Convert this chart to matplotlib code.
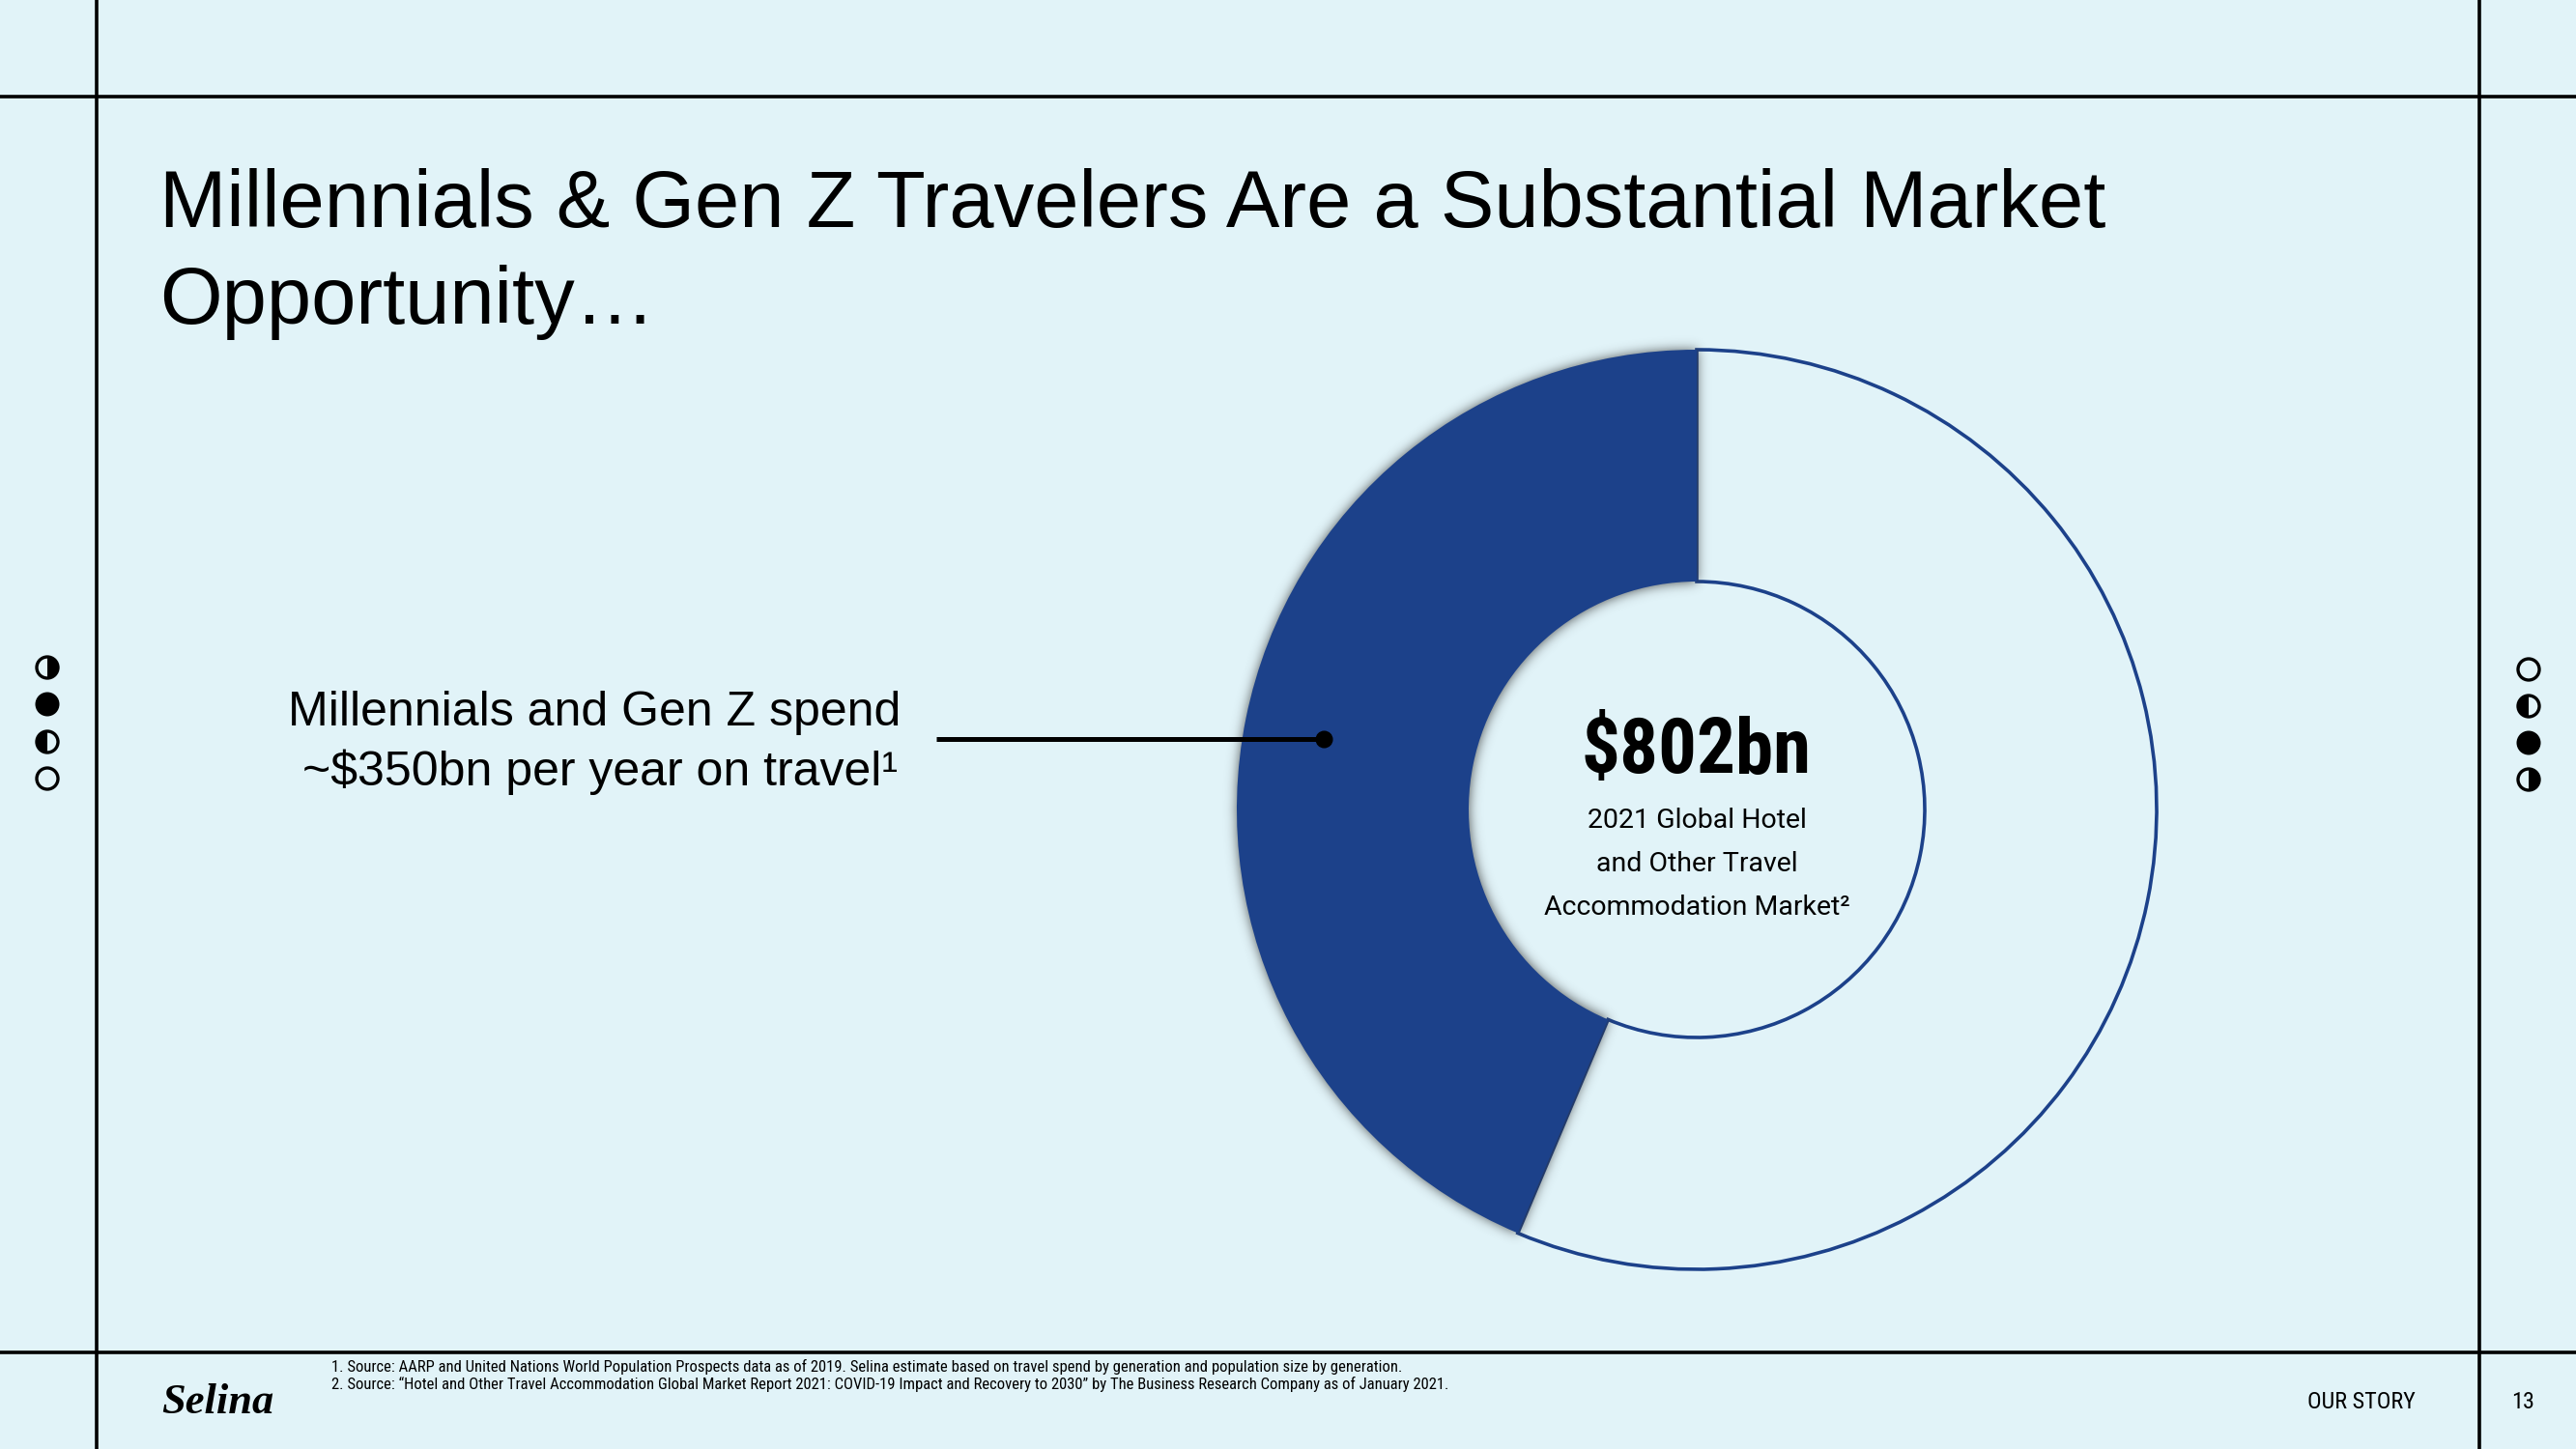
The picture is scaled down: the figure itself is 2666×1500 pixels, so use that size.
import numpy as np
import matplotlib
matplotlib.use("Agg")
import matplotlib.pyplot as plt
from matplotlib.patches import Circle, Wedge

# ---------------- data ----------------
segment_labels = ["Millennials & Gen Z", "Other travelers"]
segment_values = [350, 452]          # $bn ; total = 802
total_label = "$802bn"
total_sub = ["2021 Global Hotel", "and Other Travel", "Accommodation Market\u00b2"]
callout_lines = ["Millennials and Gen Z spend", "~$350bn per year on travel\u00b9"]
title_lines = ["Millennials & Gen Z Travelers Are a Substantial Market", "Opportunity\u2026"]
footnotes = [
    "1. Source: AARP and United Nations World Population Prospects data as of 2019. Selina estimate based on travel spend by generation and population size by generation.",
    "2. Source: \u201cHotel and Other Travel Accommodation Global Market Report 2021: COVID-19 Impact and Recovery to 2030\u201d by The Business Research Company as of January 2021.",
]
section_label = "OUR STORY"
page_number = "13"
brand = "Selina"

# ---------------- style ----------------
W, H, DPI = 2666, 1500, 100
BG = "#E1F3F8"
BLUE = "#1C418A"
SANS = ["Liberation Sans", "DejaVu Sans"]
COND = ["Roboto Condensed", "Liberation Sans Narrow", "Roboto", "DejaVu Sans"]
ROBOTO = ["Roboto", "DejaVu Sans"]

fig = plt.figure(figsize=(W / DPI, H / DPI), dpi=DPI, facecolor=BG)

# ---------------- donut ----------------
cx, cy, R, Rin, S = 1756, 838, 476, 236, 500
ax_d = fig.add_axes([(cx - S) / W, (H - cy - S) / H, 2 * S / W, 2 * S / H])
ax_d.set_facecolor("none")
wedges, _ = ax_d.pie(segment_values, colors=[BLUE, BG], startangle=90, counterclock=True,
                     radius=1.0, wedgeprops=dict(width=1 - Rin / R, linewidth=0))
wedges[1].set_edgecolor(BLUE)
wedges[1].set_linewidth(2.6)
wedges[1].set_zorder(1)
wedges[0].set_zorder(3)
lim = S / R
ax_d.axis("off")

# soft shadow around the highlighted wedge
n = 2 * S
g = np.linspace(-lim, lim, n)
X, Y = np.meshgrid(g, g)
rr = np.hypot(X, Y)
ang = np.degrees(np.arctan2(Y, X)) % 360
t1, t2 = wedges[0].theta1, wedges[0].theta2
mask = ((rr <= 1) & (rr >= Rin / R) & (ang >= t1) & (ang <= t2)).astype(float)
idx = np.arange(n)
sig = 6.0
K = np.exp(-((idx[:, None] - idx[None, :]) ** 2) / (2 * sig ** 2))
K /= K.sum(axis=1, keepdims=True)
blur = K @ mask @ K.T
rgba = np.zeros((n, n, 4))
rgba[..., :3] = 0.2
rgba[..., 3] = 0.85 * blur
ax_d.imshow(rgba, extent=(-lim, lim, -lim, lim), origin="lower", zorder=2, interpolation="bilinear")
ax_d.set_xlim(-lim, lim)
ax_d.set_ylim(-lim, lim)

# ---------------- overlay (pixel coordinates) ----------------
ax = fig.add_axes([0, 0, 1, 1], zorder=5)
ax.set_xlim(0, W)
ax.set_ylim(H, 0)
ax.axis("off")

lw_frame = 2.6
for y in (100, 1400):
    ax.plot([0, W], [y, y], color="black", lw=lw_frame, solid_capstyle="butt")
for x in (100, 2566):
    ax.plot([x, x], [0, H], color="black", lw=lw_frame, solid_capstyle="butt")

# moon-phase icons
def icon(x, y, kind):
    r = 11
    if kind == "full":
        ax.add_patch(Circle((x, y), r + 1.5, color="black", lw=0))
        return
    if kind == "right":
        ax.add_patch(Wedge((x, y), r, -90, 90, color="black", lw=0))
    if kind == "left":
        ax.add_patch(Wedge((x, y), r, 90, 270, color="black", lw=0))
    ax.add_patch(Circle((x, y), r, fill=False, ec="black", lw=2.4))

for yy, k in zip([691, 729, 768, 806], ["right", "full", "left", "empty"]):
    icon(49, yy, k)
for yy, k in zip([693, 731, 769, 807], ["empty", "left", "full", "right"]):
    icon(2617, yy, k)

# title
ax.text(165, 235, title_lines[0], family=SANS, fontsize=59.9, va="baseline", ha="left", color="black")
ax.text(165, 335, title_lines[1], family=SANS, fontsize=59.9, va="baseline", ha="left", color="black")

# callout
ax.text(932, 751, callout_lines[0], family=SANS, fontsize=36, va="baseline", ha="right")
ax.text(929, 813, callout_lines[1], family=SANS, fontsize=36, va="baseline", ha="right")
ax.plot([969, 1370], [765, 765], color="black", lw=3.6, solid_capstyle="butt")
ax.plot([1370], [765], "o", color="black", ms=12)

# centre text
ax.text(cx, 800, total_label, family=COND, fontweight="bold", fontsize=57, ha="center", va="baseline")
for i, s in enumerate(total_sub):
    ax.text(cx, 857 + 45 * i, s, family=ROBOTO, fontsize=20.5, ha="center", va="baseline")

# footer
ax.text(343, 1420, footnotes[0], family=COND, fontsize=12.0, ha="left", va="baseline")
ax.text(343, 1438, footnotes[1], family=COND, fontsize=12.0, ha="left", va="baseline")
ax.text(2444, 1458, section_label, family=COND, fontsize=17.5, ha="center", va="baseline")
ax.text(2611, 1458, page_number, family=COND, fontsize=17.5, ha="center", va="baseline")
ax.text(225, 1463, brand, family=["Liberation Serif", "DejaVu Serif"], fontweight="bold",
        style="italic", fontsize=32, ha="center", va="baseline")

fig.savefig("out.png", dpi=DPI, facecolor=BG)
